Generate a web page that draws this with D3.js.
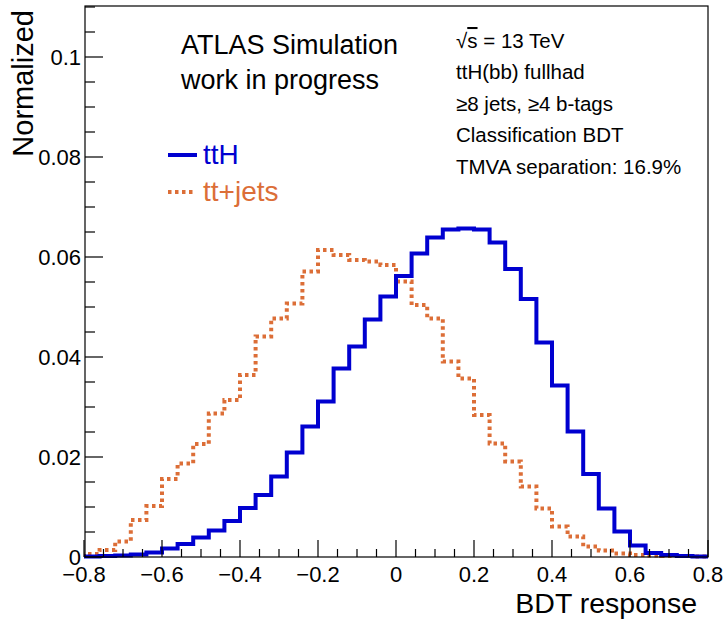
<!DOCTYPE html>
<html>
<head>
<meta charset="utf-8">
<script src="https://cdn.jsdelivr.net/npm/d3@7"></script>
<style>
  body { margin: 0; background: #fff; }
  svg text { font-family: "Liberation Sans", Arial, Helvetica, sans-serif; }
</style>
</head>
<body>
<div id="chart"></div>
<script>
// histogram contents, 40 bins from -0.8 to 0.8
const binLow = -0.8, binHigh = 0.8;
const ttH = [0.0001,0.0002,0.0003,0.0005,0.0009,0.0017,0.0026,0.0039,0.0053,0.0072,
             0.0098,0.0124,0.0161,0.0209,0.0261,0.0311,0.0377,0.0421,0.0475,0.0521,
             0.0562,0.0607,0.0639,0.0655,0.0657,0.0655,0.0629,0.0576,0.0516,0.0429,
             0.0343,0.0251,0.0166,0.0097,0.0051,0.0023,0.0008,0.0004,0.0002,0.0001];
const ttJets = [0.0006,0.0014,0.0031,0.0074,0.0102,0.0156,0.0187,0.0226,0.0287,0.0314,
                0.0364,0.0441,0.0477,0.0507,0.0571,0.0614,0.0604,0.0594,0.0591,0.0584,
                0.0551,0.0504,0.0477,0.0391,0.0357,0.0284,0.0227,0.0191,0.0141,0.0097,
                0.0061,0.0041,0.0021,0.0013,0.0007,0.0004,0.0003,0.0002,0.0002,0.0001];
const xTicks = [-0.8,-0.6,-0.4,-0.2,0,0.2,0.4,0.6,0.8];
const yTicks = [0,0.02,0.04,0.06,0.08,0.1];
const yTickLabels = ["0","0.02","0.04","0.06","0.08","0.1"];
const infoLines = ["ttH(bb) fullhad","\u22658 jets, \u22654 b-tags","Classification BDT","TMVA separation: 16.9%"];

const W = 726, H = 624;
const fLeft = 85, fRight = 708, fTop = 6, fBottom = 557;
const blue = "#0000d0", orange = "#dc6e37";

const svg = d3.select("#chart").append("svg").attr("width", W).attr("height", H);

const x = d3.scaleLinear().domain([binLow, binHigh]).range([84, fRight]);
const y = d3.scaleLinear().domain([0, 0.1102]).range([fBottom, fTop]);

svg.append("clipPath").attr("id","clip")
  .append("rect").attr("x", 84).attr("y", fTop).attr("width", fRight-84).attr("height", fBottom-fTop+3);

// step outline like ROOT "hist"
function histPoints(vals){
  const w = (binHigh - binLow) / vals.length;
  const pts = [[binLow, 0]];
  vals.forEach((v,i) => pts.push([binLow + i*w, v]));
  pts.push([binHigh, vals[vals.length-1]]);
  pts.push([binHigh, 0]);
  return pts;
}
const line = d3.line().x(d => x(d[0])).y(d => y(d[1])).curve(d3.curveStepAfter);

const plot = svg.append("g").attr("clip-path","url(#clip)");
plot.append("path")
  .attr("d", line(histPoints(ttJets)))
  .attr("fill","none").attr("stroke", orange).attr("stroke-width", 4)
  .attr("stroke-dasharray","3.5,3.5");
plot.append("path")
  .attr("d", line(histPoints(ttH)))
  .attr("fill","none").attr("stroke", blue).attr("stroke-width", 4)
  .attr("stroke-linejoin","miter");

// frame
svg.append("rect")
  .attr("x", fLeft).attr("y", fTop).attr("width", fRight-fLeft).attr("height", fBottom-fTop)
  .attr("fill","none").attr("stroke","#000").attr("stroke-width",1.2);

// y axis ticks (inside)
const yMinor = d3.range(0, 0.1101, 0.005);
svg.append("g").selectAll("line").data(yMinor).enter().append("line")
  .attr("x1", fLeft).attr("x2", d => fLeft + (Math.abs(d/0.02 - Math.round(d/0.02)) < 1e-6 ? 18 : 10))
  .attr("y1", d => y(d)).attr("y2", d => y(d))
  .attr("stroke","#000").attr("stroke-width",1.2);
svg.append("g").selectAll("text").data(yTicks).enter().append("text")
  .attr("x", 81).attr("y", d => y(d)).attr("dy","0.36em")
  .attr("text-anchor","end").style("font-size","22px")
  .text((d,i) => yTickLabels[i]);

// x axis ticks (inside)
const xMinor = d3.range(-0.8, 0.8001, 0.05);
svg.append("g").selectAll("line").data(xMinor).enter().append("line")
  .attr("x1", d => x(d)).attr("x2", d => x(d))
  .attr("y1", fBottom).attr("y2", d => fBottom - (Math.abs(d/0.2 - Math.round(d/0.2)) < 1e-6 ? 17 : 8))
  .attr("stroke","#000").attr("stroke-width",1.2);
svg.append("g").selectAll("text").data(xTicks).enter().append("text")
  .attr("x", d => x(d)).attr("y", 582)
  .attr("text-anchor","middle").style("font-size","22px")
  .text(d => Math.abs(d) < 1e-9 ? "0" : d3.format(".1f")(d).replace("-","\u2212"));

// axis titles
svg.append("text")
  .attr("x", 697).attr("y", 613).attr("text-anchor","end")
  .style("font-size","28.5px").text("BDT response");
svg.append("text")
  .attr("transform","translate(33,10) rotate(-90)")
  .attr("text-anchor","end").style("font-size","29px").text("Normalized");

// labels
svg.append("text").attr("x",181).attr("y",54).style("font-size","27px").text("ATLAS Simulation");
svg.append("text").attr("x",181).attr("y",89).style("font-size","27px").text("work in progress");

const sqrtLine = svg.append("text").attr("x", 456).attr("y", 48).style("font-size","20.5px");
sqrtLine.append("tspan").text("\u221A");
sqrtLine.append("tspan").style("text-decoration","overline").text("s");
sqrtLine.append("tspan").text(" = 13 TeV");

svg.append("g").selectAll("text").data(infoLines).enter().append("text")
  .attr("x", 456).attr("y", (d,i) => 79 + i*31.5)
  .style("font-size","20.5px").text(d => d);

// legend
svg.append("line").attr("x1",168).attr("x2",197).attr("y1",155).attr("y2",155)
  .attr("stroke", blue).attr("stroke-width",4);
svg.append("text").attr("x",203).attr("y",164).style("font-size","28px").attr("fill",blue).text("ttH");
svg.append("line").attr("x1",168).attr("x2",194).attr("y1",192).attr("y2",192)
  .attr("stroke", orange).attr("stroke-width",4).attr("stroke-dasharray","3.5,3.5");
svg.append("text").attr("x",203).attr("y",201).style("font-size","28px").attr("fill",orange).text("tt+jets");
</script>
</body>
</html>
